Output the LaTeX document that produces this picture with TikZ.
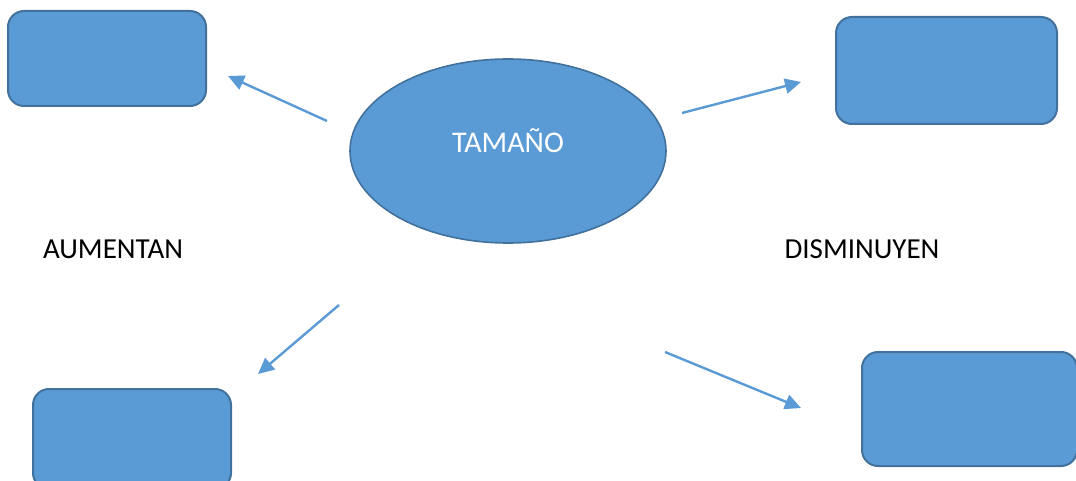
\documentclass[tikz,border=0pt]{standalone}
\usepackage{fontspec}
\setmainfont{Carlito}
\usetikzlibrary{shapes.geometric,arrows.meta}
\definecolor{fillblue}{HTML}{5B9BD5}
\definecolor{edgeblue}{HTML}{41719C}
\tikzset{
  boxnode/.style={draw=edgeblue, fill=fillblue, line width=2pt, rounded corners=16pt, inner sep=0pt},
  ovalnode/.style={ellipse, draw=edgeblue, fill=fillblue, line width=1.6pt, inner sep=0pt, minimum width=316pt, minimum height=184pt},
  conn/.style={draw=fillblue, line width=2.4pt, -{Triangle[length=16pt,width=15pt]}},
  lbl/.style={font=\fontsize{29}{32}\selectfont, text=black, inner sep=0pt}
}
\begin{document}
\begin{tikzpicture}[x=1pt,y=-1pt]
\useasboundingbox (0,0) rectangle (1076,481);
\node[boxnode, minimum width=198pt, minimum height=95pt] (b1) at (107,58.5) {};
\node[boxnode, minimum width=221pt, minimum height=107pt] (b2) at (946.5,70.5) {};
\node[boxnode, minimum width=198pt, minimum height=100pt] (b3) at (132,439) {};
\node[boxnode, minimum width=215pt, minimum height=114pt] (b4) at (969.5,409) {};
\node[ovalnode] (ov) at (508,151) {};
\node[font=\fontsize{30}{34}\selectfont, text=white, inner sep=0pt] (t) at (508,141) {TAMAÑO};
\node[lbl] (au) at (113,249) {AUMENTAN};
\node[lbl] (di) at (862,249) {DISMINUYEN};
\coordinate (a1s) at (327,121); \coordinate (a1e) at (228,76);
\coordinate (a2s) at (682,113); \coordinate (a2e) at (801,82);
\coordinate (a3s) at (339,305); \coordinate (a3e) at (258,374);
\coordinate (a4s) at (665,352); \coordinate (a4e) at (801,408);
\draw[conn] (a1s) -- (a1e);
\draw[conn] (a2s) -- (a2e);
\draw[conn] (a3s) -- (a3e);
\draw[conn] (a4s) -- (a4e);
\end{tikzpicture}
\end{document}
